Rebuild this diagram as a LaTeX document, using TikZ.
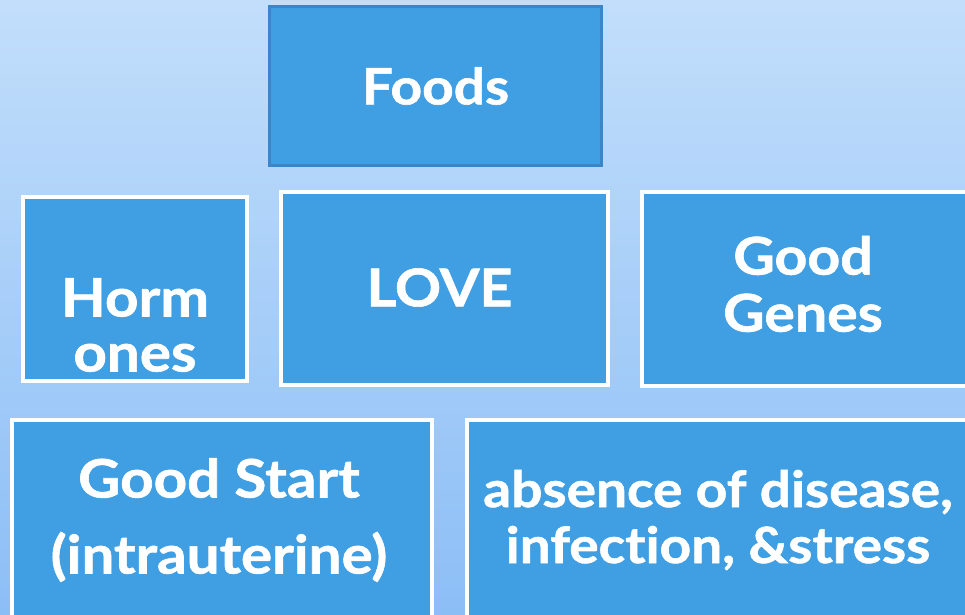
\documentclass[tikz,border=0pt]{standalone}
\usepackage{fontspec}
\setmainfont{Lato}[Ligatures=NoCommon,BoldFeatures={FakeStretch=1.1,FakeBold=1.2}]
\usetikzlibrary{positioning}
\definecolor{skytop}{RGB}{194,222,251}
\definecolor{skybot}{RGB}{140,190,246}
\definecolor{tile}{RGB}{64,158,227}
\definecolor{tileedge}{RGB}{58,134,203}
\tikzset{
  tilebox/.style={draw=white, line width=4pt, fill=tile, inner sep=0pt, outer sep=0pt},
  tiletext/.style={text=white, font=\fontsize{52}{57}\selectfont\bfseries, align=center, inner sep=0pt}
}
\begin{document}
\begin{tikzpicture}[x=1pt,y=-1pt]
    \clip (0,0) rectangle (965,614);
    \shade [top color=skytop, bottom color=skybot] (0,0) rectangle (965,614);
    % top row
    \node [tilebox, draw=tileedge, line width=3pt, minimum width=332pt, minimum height=159pt] (foods) at (435.5,86) {};
    \node [tiletext, font=\fontsize{50}{56}\selectfont\bfseries] (foodstxt) at (foods.center) {Foods};
    % middle row
    \node [tilebox, minimum width=224pt, minimum height=184pt] (horm) at (135,289) {};
    \node [tiletext, font=\fontsize{53}{55}\selectfont\bfseries] (hormtxt) at ([yshift=-36pt]horm.center) {Horm\\ones};
    \node [tilebox, minimum width=327pt, minimum height=193pt] (love) at (444.5,288.5) {};
    \node [tiletext] (lovetxt) at ([xshift=-5pt,yshift=1pt]love.center) {LOVE};
    \node [tilebox, minimum width=327pt, minimum height=194pt] (genes) at (805,289) {};
    \node [tiletext] (genestxt) at ([xshift=-2pt,yshift=5pt]genes.center) {Good\\Genes};
    % bottom row
    \node [tilebox, minimum width=420pt, minimum height=200pt] (start) at (222,520) {};
    \node [tiletext, font=\fontsize{53}{76}\selectfont\bfseries] (starttxt) at ([xshift=-3pt,yshift=0pt]start.center) {Good Start\\(intrauterine)};
    \node [tilebox, minimum width=502pt, minimum height=200pt] (absence) at (718,520) {};
    \node [tiletext, font=\fontsize{50}{56}\selectfont\bfseries] (absencetxt) at ([yshift=0pt]absence.center) {absence of disease,\\infection, \&stress};
\end{tikzpicture}
\end{document}
